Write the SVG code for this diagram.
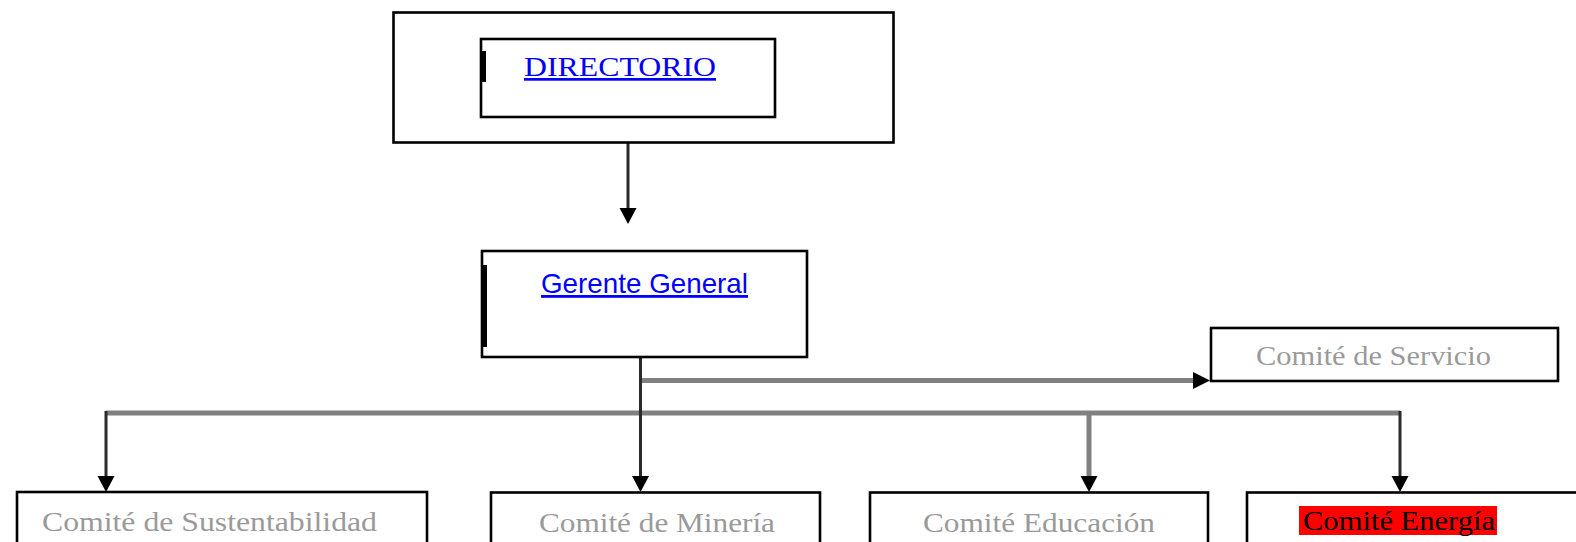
<svg xmlns="http://www.w3.org/2000/svg" width="1576" height="542" viewBox="0 0 1576 542">
<style>
.box{fill:#fff;stroke:#000;stroke-width:2.6}
.bar{fill:#000}
.dark{stroke:#2a2a2a;stroke-width:3;fill:none}
.gray{stroke:#808080;stroke-width:5;fill:none}
.head{fill:#000}
.link{font-family:"Liberation Serif","Times New Roman",serif;font-size:27px;fill:#0000ff;text-decoration:underline}
.links{font-family:"Liberation Sans",Arial,sans-serif;font-size:28px;fill:#0000ff;text-decoration:underline}
.com{font-family:"Liberation Serif","Times New Roman",serif;font-size:28px;fill:#9a9a9a}
.comk{font-family:"Liberation Serif","Times New Roman",serif;font-size:28px;fill:#000}
</style>
<rect width="1576" height="542" fill="#fff"/>
<g id="connectors">
<line class="dark" x1="628" y1="143" x2="628" y2="210"/>
<polygon class="head" points="619.5,208 636.5,208 628,224"/>
<line class="gray" x1="641" y1="380.5" x2="1195" y2="380.5"/>
<polygon class="head" points="1193,372 1193,389 1210,380.5"/>
<line class="gray" x1="106" y1="413" x2="1400" y2="413"/>
<line class="dark" x1="640.5" y1="357" x2="640.5" y2="478"/>
<polygon class="head" points="632,476 649,476 640.5,492"/>
<line class="dark" x1="106" y1="411" x2="106" y2="478"/>
<polygon class="head" points="97.5,476 114.5,476 106,492"/>
<line class="gray" x1="1089" y1="413" x2="1089" y2="478"/>
<polygon class="head" points="1080.5,476 1097.5,476 1089,492"/>
<line class="dark" x1="1400" y1="411" x2="1400" y2="478"/>
<polygon class="head" points="1391.5,476 1408.5,476 1400,492"/>
</g>
<g id="directorio">
<rect class="box" x="393.5" y="12.5" width="500" height="130"/>
<rect class="box" x="481" y="39" width="294" height="78"/>
<rect class="bar" x="480" y="51" width="6" height="31"/>
<text class="link" x="524" y="76" textLength="192" lengthAdjust="spacingAndGlyphs">DIRECTORIO</text>
</g>
<g id="gerente">
<rect class="box" x="482" y="251" width="325" height="106"/>
<rect class="bar" x="481" y="265" width="6" height="82"/>
<text class="links" x="541" y="293" textLength="207" lengthAdjust="spacingAndGlyphs">Gerente General</text>
</g>
<g id="servicio">
<rect class="box" x="1211" y="328" width="347" height="53"/>
<text class="com" x="1256" y="365" textLength="235" lengthAdjust="spacingAndGlyphs">Comité de Servicio</text>
</g>
<g id="sustentabilidad">
<rect class="box" x="17" y="492" width="410" height="80"/>
<text class="com" x="42" y="531" textLength="335" lengthAdjust="spacingAndGlyphs">Comité de Sustentabilidad</text>
</g>
<g id="mineria">
<rect class="box" x="491" y="492.5" width="329" height="80"/>
<text class="com" x="539" y="531.5" textLength="236" lengthAdjust="spacingAndGlyphs">Comité de Minería</text>
</g>
<g id="educacion">
<rect class="box" x="870" y="492.5" width="338" height="80"/>
<text class="com" x="923" y="532" textLength="232" lengthAdjust="spacingAndGlyphs">Comité Educación</text>
</g>
<g id="energia">
<rect class="box" x="1247" y="492.5" width="345" height="80"/>
<rect x="1299" y="506" width="198" height="29" fill="#ff0000"/>
<text class="comk" x="1303" y="530" textLength="192" lengthAdjust="spacingAndGlyphs">Comité Energía</text>
</g>
</svg>
